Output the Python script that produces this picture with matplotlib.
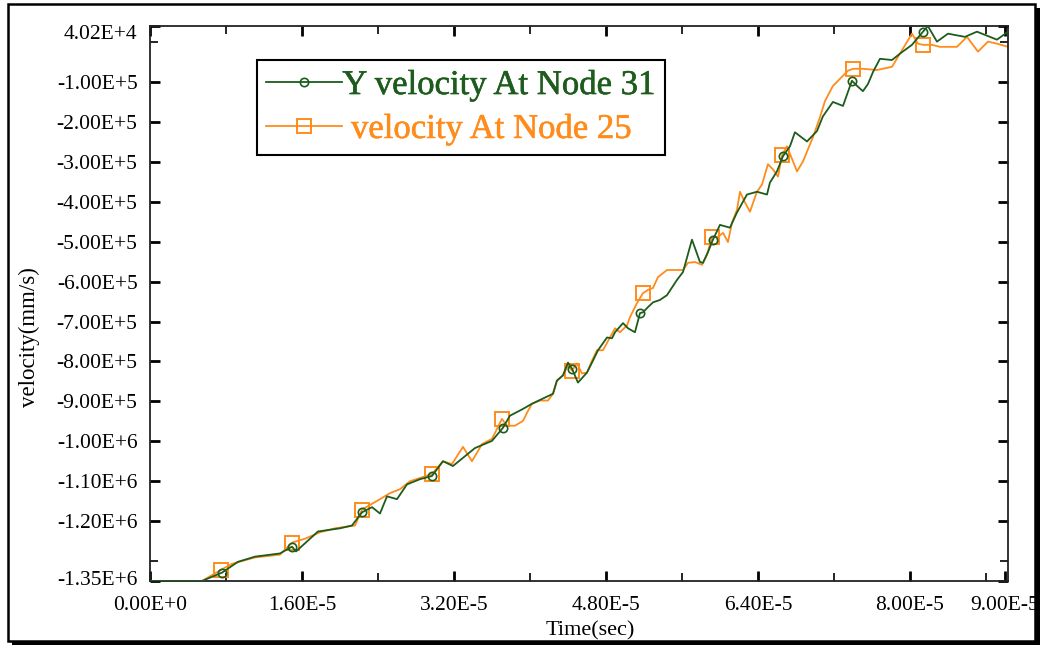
import numpy as np
import matplotlib
matplotlib.use("Agg")
import matplotlib.pyplot as plt
from matplotlib.patches import Rectangle
from matplotlib.transforms import ScaledTranslation
import matplotlib.patheffects as pe

plt.rcParams['font.family'] = ['Liberation Serif', 'DejaVu Serif']

# ---- data (time in microseconds, velocity in 1e5 mm/s) ----
t_node31 = [0, 5.47, 7.58, 9.26, 11.05, 13.68, 14.95, 15.37, 17.68, 20.0, 21.26, 22.32, 23.37, 24.21,
            24.95, 26.0, 27.05, 28.42, 29.68, 30.84, 31.89, 34.21, 36.0, 37.16, 37.89, 39.26, 40.21,
            42.42, 42.84, 43.47, 44.0, 44.42, 45.05, 46.0, 46.63, 47.16, 48.11, 48.63, 48.95, 49.79,
            50.32, 51.05, 51.58, 51.89, 52.42, 52.95, 53.68, 54.42, 55.47, 56.11, 57.05, 57.37, 57.89,
            58.21, 58.74, 59.26, 60.0, 61.05, 61.79, 62.84, 63.89, 64.95, 65.26, 66.0, 66.63, 67.37,
            67.89, 69.16, 70.21, 70.84, 71.89, 72.95, 73.47, 73.89, 74.53, 75.05, 75.58, 76.11, 76.84,
            78.11, 78.95, 80.21, 81.37, 81.89, 82.84, 84.0, 85.79, 87.05, 89.16, 90.32]
v_node31 = [-13.50, -13.50, -13.29, -13.02, -12.89, -12.81, -12.64, -12.76, -12.26, -12.18, -12.11,
            -11.78, -11.65, -11.81, -11.38, -11.45, -11.08, -10.95, -10.87, -10.50, -10.62, -10.17,
            -9.99, -9.66, -9.36, -9.19, -9.06, -8.81, -8.48, -8.35, -8.03, -8.18, -8.53, -8.28, -7.98,
            -7.72, -7.40, -7.42, -7.27, -7.04, -7.17, -7.27, -6.79, -6.77, -6.64, -6.52, -6.46, -6.34,
            -5.96, -5.76, -4.95, -5.16, -5.51, -5.53, -5.26, -4.95, -4.58, -4.65, -4.27, -3.82, -3.75,
            -3.82, -3.52, -3.24, -2.86, -2.61, -2.26, -2.49, -2.23, -1.86, -1.50, -1.60, -1.25, -0.97,
            -1.12, -1.23, -1.05, -0.75, -0.42, -0.45, -0.29, -0.07, 0.26, 0.40, 0.01, 0.21, 0.13,
            0.26, 0.06, 0.26]

t_node25 = [0, 5.47, 7.47, 8.63, 11.05, 13.68, 14.95, 16.32, 17.89, 19.47, 21.58, 22.32, 24.21, 25.26,
            26.32, 27.37, 28.42, 29.68, 30.84, 31.79, 32.95, 33.89, 34.95, 36.0, 37.05, 37.58, 38.42,
            39.26, 39.79, 40.21, 41.05, 41.89, 42.42, 42.84, 43.47, 44.0, 44.42, 44.95, 45.47, 46.0,
            46.53, 47.05, 47.68, 48.42, 48.95, 49.47, 50.21, 50.53, 51.26, 51.89, 52.42, 52.95, 53.47,
            54.42, 56.11, 56.63, 57.37, 58.11, 58.63, 59.16, 59.79, 60.32, 60.84, 61.26, 61.79, 62.11,
            62.63, 63.16, 63.89, 64.42, 65.05, 65.58, 66.11, 66.53, 67.05, 68.11, 68.74, 69.79, 70.53,
            71.05, 71.89, 72.84, 73.47, 74.0, 75.05, 76.53, 78.11, 80.21, 80.84, 81.37, 82.32, 83.16,
            84.95, 86.0, 87.16, 88.21, 89.16, 90.32]
v_node25 = [-13.50, -13.50, -13.22, -13.07, -12.91, -12.84, -12.54, -12.44, -12.28, -12.18, -12.11,
            -11.71, -11.45, -11.30, -11.20, -11.00, -10.92, -10.82, -10.50, -10.57, -10.14, -10.50,
            -10.07, -9.94, -9.44, -9.61, -9.61, -9.49, -9.24, -9.06, -8.98, -8.98, -8.81, -8.48, -8.35,
            -8.10, -8.23, -8.05, -8.30, -8.28, -7.98, -7.72, -7.72, -7.40, -7.17, -7.27, -7.10, -6.89,
            -6.54, -6.29, -6.21, -6.16, -5.89, -5.71, -5.71, -5.53, -5.51, -5.58, -5.33, -4.88, -4.88,
            -4.78, -5.01, -4.53, -4.20, -3.75, -4.02, -4.25, -3.75, -3.57, -3.06, -3.19, -3.37, -2.84,
            -2.61, -3.24, -2.99, -2.38, -1.88, -1.48, -1.10, -0.87, -0.72, -0.67, -0.67, -0.70, -0.62,
            0.21, -0.04, -0.07, -0.07, -0.12, -0.12, 0.13, -0.24, 0.01, -0.04, -0.12]

marker_times = [7.5, 14.95, 22.32, 29.68, 37.1, 44.42, 51.7, 59.2, 66.6, 73.9, 81.37]

label31 = "Y velocity At Node 31"
label25 = " velocity At Node 25"

yticks = [0.402, -1, -2, -3, -4, -5, -6, -7, -8, -9, -10, -11, -12, -13.5]
yticklabels = ["4.02E+4", "-1.00E+5", "-2.00E+5", "-3.00E+5", "-4.00E+5", "-5.00E+5", "-6.00E+5",
               "-7.00E+5", "-8.00E+5", "-9.00E+5", "-1.00E+6", "-1.10E+6", "-1.20E+6", "-1.35E+6"]
yminor = [0, -13]
xticks = [0, 16, 32, 48, 64, 80, 90]
xticklabels = ["0.00E+0", "1.60E-5", "3.20E-5", "4.80E-5", "6.40E-5", "8.00E-5", "9.00E-5"]
xminor = [8, 24, 40, 56, 72, 88]

GREEN = "#1d5c1d"
ORANGE = "#ff8c1a"

# ---- figure ----
fig = plt.figure(figsize=(10.4, 6.45), dpi=100)
ax = fig.add_axes([150 / 1040, 1 - 581 / 645, 858 / 1040, 555 / 645])

t31 = np.array(t_node31) * 1e-6
y31 = np.array(v_node31) * 1e5
t25 = np.array(t_node25) * 1e-6
y25 = np.array(v_node25) * 1e5

me31 = [int(np.argmin(np.abs(np.array(t_node31) - m))) for m in marker_times]
me25 = [int(np.argmin(np.abs(np.array(t_node25) - m))) for m in marker_times]

ax.plot(t25, y25, color=ORANGE, lw=1.3, marker='s', markersize=10, markerfacecolor='none',
        markeredgecolor=ORANGE, markeredgewidth=1.4, markevery=me25, label=label25, zorder=2)
ax.plot(t31, y31, color=GREEN, lw=1.3, marker='o', markersize=6, markerfacecolor='none',
        markeredgecolor=GREEN, markeredgewidth=1.2, markevery=me31, label=label31, zorder=3)

ax.set_xlim(0, 90.32e-6)
ax.set_ylim(-13.5e5, 0.402e5)

ax.set_yticks(np.array(yticks) * 1e5, yticklabels)
ax.set_yticks(np.array(yminor) * 1e5, minor=True)
ax.set_xticks(np.array(xticks) * 1e-6, xticklabels)
ax.set_xticks(np.array(xminor) * 1e-6, minor=True)

ax.tick_params(which='major', direction='in', length=7, width=2, top=True, right=True,
               labelsize=15.5, pad=11, color='black')
ax.tick_params(which='minor', direction='in', length=6, width=1.2, top=True, right=True)
ax.tick_params(axis='y', pad=9)
for sp in ax.spines.values():
    sp.set_linewidth(1.3)
    sp.set_color('#222222')

# nudge the end labels of the y axis like the reference
ylabels = ax.get_yticklabels()
ylabels[0].set_transform(ylabels[0].get_transform() + ScaledTranslation(0, -6 / 100, fig.dpi_scale_trans))
ylabels[-1].set_transform(ylabels[-1].get_transform() + ScaledTranslation(0, 3 / 100, fig.dpi_scale_trans))

ax.set_xlabel("Time(sec)", fontsize=16)
ax.xaxis.set_label_coords(0.513, -0.072)
ax.set_ylabel("velocity(mm/s)", fontsize=16.5)
ax.yaxis.set_label_coords(-0.128, 0.44)

handles, labels = ax.get_legend_handles_labels()
leg = ax.legend(handles[::-1], labels[::-1], loc='upper left', bbox_to_anchor=(0.125, 0.939),
                fontsize=25, frameon=True, fancybox=False, framealpha=1, edgecolor='black',
                borderpad=0.25, handlelength=2.2, handletextpad=0.0, labelspacing=0.3,
                borderaxespad=0, labelcolor='linecolor')
leg.get_frame().set_linewidth(1.5)
for txt, col in zip(leg.get_texts(), [GREEN, ORANGE]):
    txt.set_path_effects([pe.withStroke(linewidth=0.4, foreground=col)])

# figure frame with shadow
fig.patches.append(Rectangle((8 / 1040, 4 / 645), 1027 / 1040, 637 / 645, transform=fig.transFigure,
                             fill=False, edgecolor='black', linewidth=1.8, zorder=10))
fig.patches.append(Rectangle((1035 / 1040, 0), 5 / 1040, 637 / 645, transform=fig.transFigure,
                             facecolor='black', edgecolor='none', zorder=10))
fig.patches.append(Rectangle((12 / 1040, 0), 1028 / 1040, 4 / 645, transform=fig.transFigure,
                             facecolor='black', edgecolor='none', zorder=10))

fig.savefig("out.png", dpi=100)
